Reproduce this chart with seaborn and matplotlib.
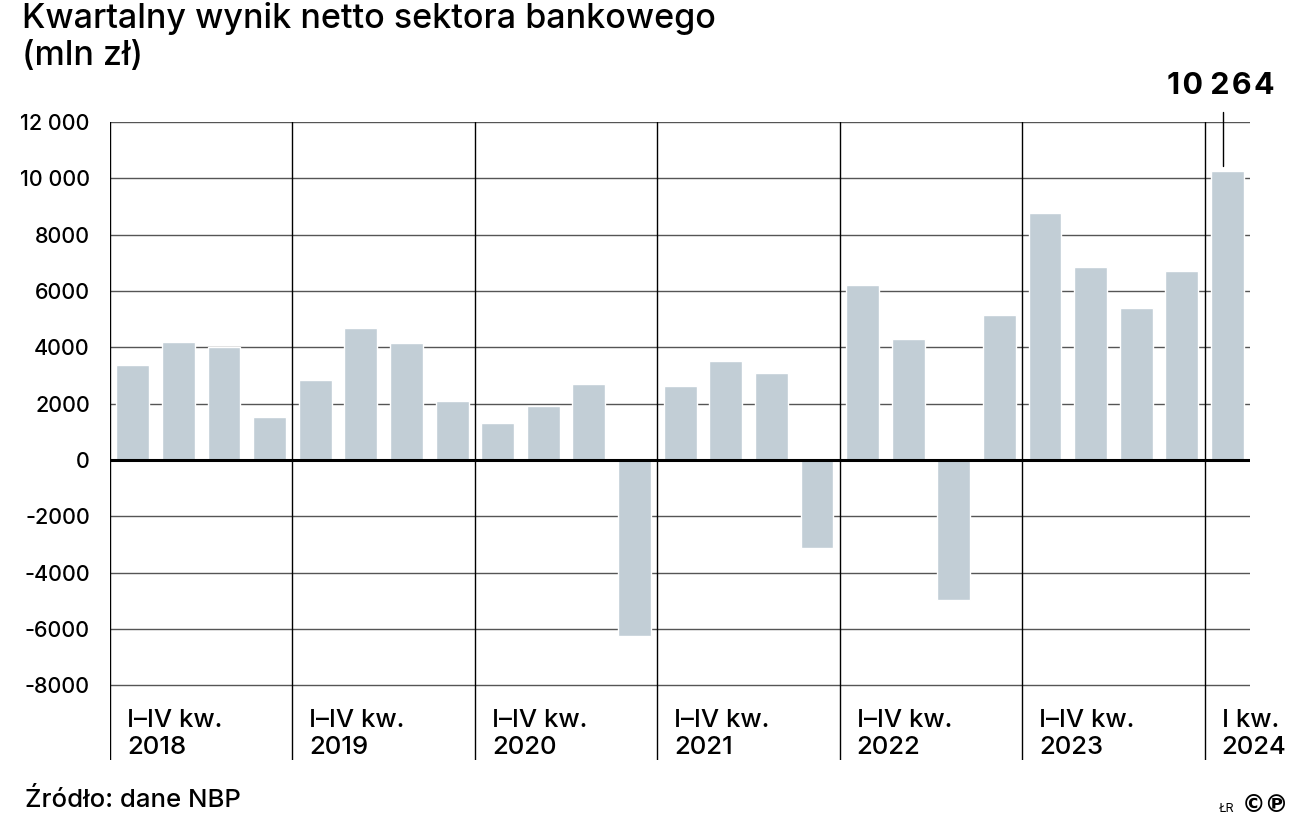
import pandas as pd
import seaborn as sns
import matplotlib.pyplot as plt

years = ["2018", "2019", "2020", "2021", "2022", "2023", "2024"]
year_labels = ["I–IV kw.\n2018", "I–IV kw.\n2019", "I–IV kw.\n2020", "I–IV kw.\n2021",
               "I–IV kw.\n2022", "I–IV kw.\n2023", "I kw.\n2024"]
quarters = [f"{q} {y}" for y in years[:-1] for q in ["I", "II", "III", "IV"]] + ["I 2024"]
wynik = [3370, 4190, 4010, 1530,
         2840, 4690, 4150, 2090,
         1320, 1930, 2690, -6240,
         2620, 3510, 3090, -3110,
         6210, 4300, -4970, 5150,
         8760, 6860, 5390, 6720,
         10264]
yticks = [12000, 10000, 8000, 6000, 4000, 2000, 0, -2000, -4000, -6000, -8000]
ytick_labels = ["12 000", "10 000", "8000", "6000", "4000", "2000", "0",
                "-2000", "-4000", "-6000", "-8000"]

df = pd.DataFrame({"kwartal": quarters, "wynik": wynik})

sns.set_theme(style="white")
plt.rcParams["font.family"] = ["Inter", "DejaVu Sans"]

fig = plt.figure(figsize=(13.13, 8.31), dpi=100)
ax = fig.add_axes([0.0838, 0.0854, 0.8684, 0.7678])

sns.barplot(data=df, x="kwartal", y="wynik", color="#c2ced6", saturation=1,
            width=0.72, ax=ax, zorder=2)

ylo, yhi = -10650, 12000
ax.set_ylim(ylo, yhi)
ax.set_xlim(-0.5, len(quarters) - 0.5)

for t in yticks:
    if t == 0:
        continue
    ax.axhline(t, color="#555555", lw=1, zorder=1)
ax.axhline(0, color="black", lw=2.2, zorder=3)

# year separators
starts = [i * 4 - 0.5 for i in range(len(years))]
for s, lab in zip(starts, year_labels):
    ax.axvline(s, color="black", lw=1, zorder=3)
    ax.text(s + 0.37, -8850, lab, ha="left", va="top", fontsize=18.5,
            fontweight="medium", linespacing=1.2, color="black")

for sp in ax.spines.values():
    sp.set_visible(False)

ax.set_yticks(yticks)
ax.set_yticklabels(ytick_labels, fontsize=15.5, fontweight="medium")
ax.tick_params(axis="y", length=0, pad=14.5, colors="black")
ax.set_xticks([])
ax.set_xlabel("")
ax.set_ylabel("")

# annotation for last bar
last = len(quarters) - 1
ax.plot([last - 0.1, last - 0.1], [10440, 12350], color="black", lw=1, clip_on=False)
ax.text(last - 0.15, 13280, "1\u200a0 2\u200a6\u200a4",
        ha="center", va="center", fontsize=22,
        fontweight="bold", color="black", clip_on=False)

fig.text(0.0168, 0.997, "Kwartalny wynik netto sektora bankowego\n(mln zł)",
         ha="left", va="top", fontsize=24.5, fontweight="medium",
         linespacing=1.2, color="black")
fig.text(0.019, 0.037, "Źródło: dane NBP", ha="left", va="center", fontsize=18.5,
         fontweight="medium", color="black")
fig.text(0.928, 0.027, "ŁR", ha="left", va="center", fontsize=9, color="black")
fig.text(0.982, 0.031, "©℗", ha="right", va="center", fontsize=17,
         fontweight="bold", color="black", family=["DejaVu Sans"])

fig.savefig("out.png", dpi=100)
